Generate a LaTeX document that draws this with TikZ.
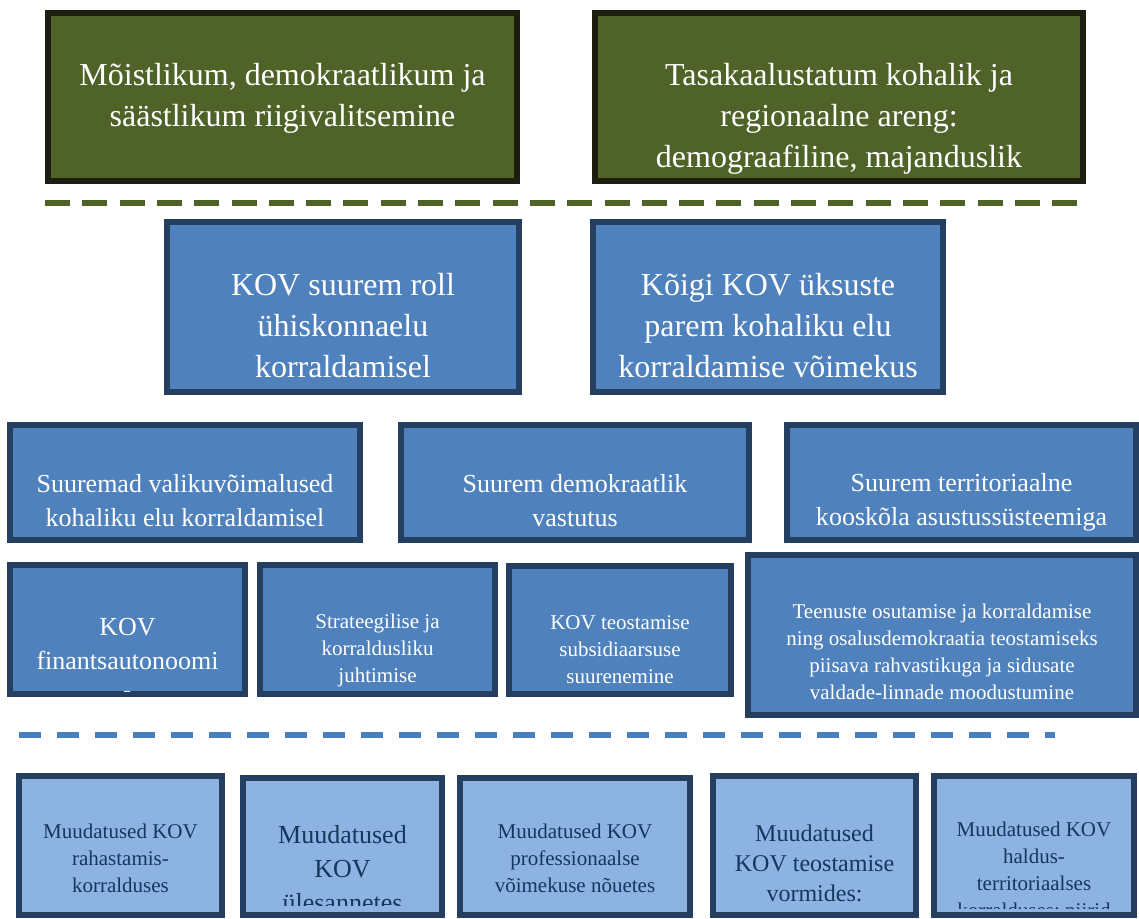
\documentclass[tikz,border=0pt]{standalone}
\usepackage{fontspec}
\setmainfont{Liberation Serif}
\definecolor{oliiv}{HTML}{4F6228}
\definecolor{oliivserv}{HTML}{1D1D10}
\definecolor{sinine}{HTML}{4F81BD}
\definecolor{tumesinine}{HTML}{243F60}
\definecolor{helesinine}{HTML}{8DB3E2}
\definecolor{tekstisinine}{HTML}{17365D}
\definecolor{katkendsinine}{HTML}{4A7EBB}

\begin{document}
\begin{tikzpicture}[x=1pt,y=-1pt,
    kast/.style 2 args={draw, line width=6pt, inner sep=0pt, minimum width=#1, minimum height=#2},
    eesmark/.style={fill=oliiv, draw=oliivserv},
    tulem/.style={fill=sinine, draw=tumesinine},
    muudatus/.style={fill=helesinine, draw=tumesinine},
    tekst/.style={align=center, inner sep=0pt, text=white},
    suur/.style={tekst, font=\fontsize{32}{41}\selectfont},
    keskmine/.style={tekst, font=\fontsize{26}{34}\selectfont},
    vaike/.style={tekst, font=\fontsize{21}{27}\selectfont},
    katkend/.style={line width=6pt, dash pattern=on 25pt off 12.3pt}]
    \useasboundingbox (0,0) rectangle (1139,918);

    % eesmargid
    \node[kast={469}{168}, eesmark] (g1) at (282.5,97) {};
    \node[kast={488}{168}, eesmark] (g2) at (839,97) {};
    \node[suur] (g1t) at (282.5,98) {Mõistlikum, demokraatlikum ja\\säästlikum riigivalitsemine};
    \begin{scope}
        \clip ([shift={(6,6)}]g2.north west) rectangle ([shift={(-6,-6)}]g2.south east);
        \node[suur] (g2t) at (839,119) {Tasakaalustatum kohalik ja\\regionaalne areng:\\demograafiline, majanduslik};
    \end{scope}
    \draw[katkend, oliiv] (45,203)--(1086,203);

    % tulemid
    \node[kast={352}{170}, tulem] (b1) at (343,307) {};
    \node[kast={350}{170}, tulem] (b2) at (768,307) {};
    \node[suur] (b1t) at (343,326) {KOV suurem roll\\ühiskonnaelu\\korraldamisel};
    \node[suur] (b2t) at (768,326) {Kõigi KOV üksuste\\parem kohaliku elu\\korraldamise võimekus};

    \node[kast={350}{115}, tulem] (c1) at (185,482.5) {};
    \node[kast={348}{115}, tulem] (c2) at (575,482.5) {};
    \node[kast={349}{115}, tulem] (c3) at (961.5,482.5) {};
    \node[keskmine] (c1t) at (185,501) {Suuremad valikuvõimalused\\kohaliku elu korraldamisel};
    \node[keskmine] (c2t) at (575,501) {Suurem demokraatlik\\vastutus};
    \begin{scope}
        \clip ([shift={(6,6)}]c3.north west) rectangle ([shift={(-6,-6)}]c3.south east);
        \node[keskmine] (c3t) at (961.5,502) {Suurem territoriaalne\\kooskõla asustussüsteemiga};
    \end{scope}

    \node[kast={235}{129}, tulem] (d1) at (127.5,629.5) {};
    \node[kast={235}{129}, tulem] (d2) at (377.5,629.5) {};
    \node[kast={222}{128}, tulem] (d3) at (620,630) {};
    \node[kast={388}{160}, tulem] (d4) at (942,635) {};
    \begin{scope}
        \clip ([shift={(6,6)}]d1.north west) rectangle ([shift={(-6,-6)}]d1.south east);
        \node[keskmine] (d1t) at (127.5,661) {KOV\\finantsautonoomi\\a};
    \end{scope}
    \begin{scope}
        \clip ([shift={(6,6)}]d2.north west) rectangle ([shift={(-6,-6)}]d2.south east);
        \node[vaike] (d2t) at (377.5,650) {Strateegilise ja\\korraldusliku\\juhtimise};
    \end{scope}
    \node[vaike] (d3t) at (620,650) {KOV teostamise\\subsidiaarsuse\\suurenemine};
    \node[vaike] (d4t) at (942,652) {Teenuste osutamise ja korraldamise\\ning osalusdemokraatia teostamiseks\\piisava rahvastikuga ja sidusate\\valdade-linnade moodustumine};
    \draw[katkend, katkendsinine, dash pattern=on 22pt off 16pt] (19,735)--(1055,735);

    % muudatused
    \node[kast={203}{139}, muudatus] (e1) at (120.5,845.5) {};
    \node[kast={199}{137}, muudatus] (e2) at (342.5,846.5) {};
    \node[kast={230}{137}, muudatus] (e3) at (575,846.5) {};
    \node[kast={203}{139}, muudatus] (e4) at (814.5,845.5) {};
    \node[kast={200}{139}, muudatus] (e5) at (1034,845.5) {};
    \node[vaike, text=tekstisinine] (e1t) at (120.5,858) {Muudatused KOV\\rahastamis-\\korralduses};
    \begin{scope}
        \clip ([shift={(6,6)}]e2.north west) rectangle ([shift={(-6,-13)}]e2.south east);
        \node[keskmine, text=tekstisinine] (e2t) at (342.5,869) {Muudatused\\KOV\\ülesannetes};
    \end{scope}
    \begin{scope}
        \clip ([shift={(6,6)}]e3.north west) rectangle ([shift={(-6,-9)}]e3.south east);
        \node[vaike, text=tekstisinine] (e3t) at (575,858) {Muudatused KOV\\professionaalse\\võimekuse nõuetes};
    \end{scope}
    \node[tekst, text=tekstisinine, font=\fontsize{24}{30}\selectfont] (e4t) at (814.5,863) {Muudatused\\KOV teostamise\\vormides:};
    \begin{scope}
        \clip ([shift={(6,6)}]e5.north west) rectangle ([shift={(-6,-10)}]e5.south east);
        \node[vaike, text=tekstisinine] (e5t) at (1034,872) {Muudatused KOV\\haldus-\\territoriaalses\\korralduses; piirid};
    \end{scope}
\end{tikzpicture}
\end{document}
